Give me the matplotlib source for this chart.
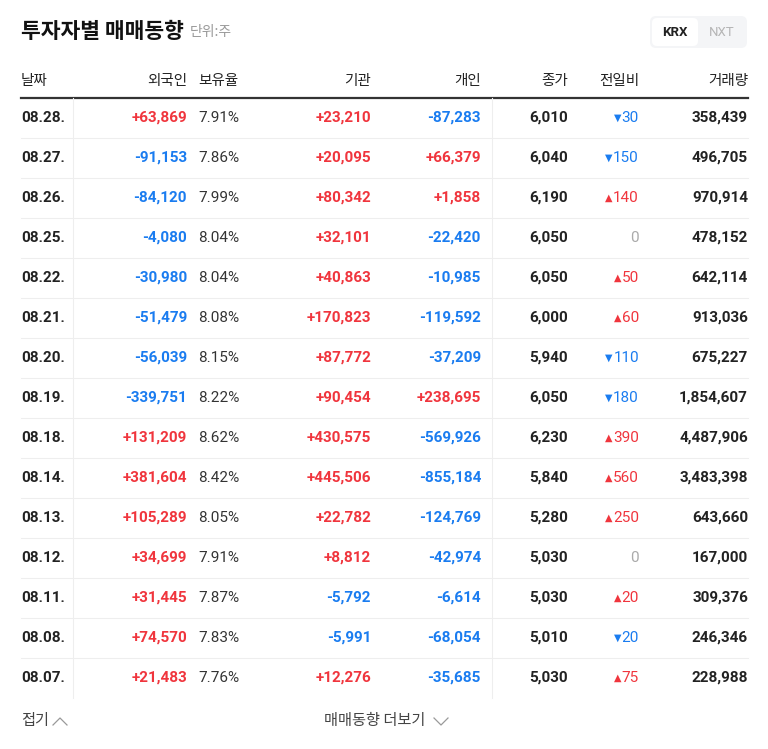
import matplotlib
matplotlib.use("Agg")
import matplotlib.pyplot as plt
from matplotlib import font_manager as fm
from matplotlib.patches import FancyBboxPatch

dates = ["08.28.","08.27.","08.26.","08.25.","08.22.","08.21.","08.20.","08.19.","08.18.","08.14.","08.13.","08.12.","08.11.","08.08.","08.07."]
foreign = [63869,-91153,-84120,-4080,-30980,-51479,-56039,-339751,131209,381604,105289,34699,31445,74570,21483]
holding = [7.91,7.86,7.99,8.04,8.04,8.08,8.15,8.22,8.62,8.42,8.05,7.91,7.87,7.83,7.76]
institution = [23210,20095,80342,32101,40863,170823,87772,90454,430575,445506,22782,8812,-5792,-5991,12276]
individual = [-87283,66379,1858,-22420,-10985,-119592,-37209,238695,-569926,-855184,-124769,-42974,-6614,-68054,-35685]
close = [6010,6040,6190,6050,6050,6000,5940,6050,6230,5840,5280,5030,5030,5010,5030]
change = [-30,-150,140,0,50,60,-110,-180,390,560,250,0,20,-20,75]
volume = [358439,496705,970914,478152,642114,913036,675227,1854607,4487906,3483398,643660,167000,309376,246346,228988]
headers = ["날짜","외국인","보유율","기관","개인","종가","전일비","거래량"]

RED = "#f0353d"; BLUE = "#1a7cf0"; DARK = "#222222"; GRAY = "#999999"
NUM = "Roboto"

cjk = sorted(f for f in fm.findSystemFonts() if "cjk" in f.lower())
def pick(keys, exclude=()):
    for k in keys:
        for f in cjk:
            n = f.lower().split("/")[-1]
            if k in n and not any(e in n for e in exclude):
                return f
    return None
kr_reg = pick(["regular"]) or pick([".tt", ".ot"], exclude=("bold", "black", "medium", "light", "thin"))
kr_bold = pick(["bold"], exclude=("semibold", "extrabold")) or kr_reg

def kp(size, bold=False):
    f = kr_bold if bold else kr_reg
    if f is None:
        return fm.FontProperties(family="Noto Sans CJK KR", size=size, weight="bold" if bold else "normal")
    return fm.FontProperties(fname=f, size=size)

fig = plt.figure(figsize=(7.68, 7.49), dpi=100)
ax = fig.add_axes([0, 0, 1, 1])
ax.set_xlim(0, 768); ax.set_ylim(749, 0); ax.axis("off")

ax.text(21, 31, "투자자별 매매동향", fontproperties=kp(15.5, True), color="#111", va="center")
ax.text(190, 32, "단위:주", fontproperties=kp(10), color=GRAY, va="center")
ax.add_patch(FancyBboxPatch((650, 16), 97, 32, boxstyle="round,pad=0,rounding_size=6", fc="#f4f5f7", ec="none"))
ax.add_patch(FancyBboxPatch((652, 18), 46, 28, boxstyle="round,pad=0,rounding_size=5", fc="white", ec="none"))
ax.text(675, 33, "KRX", fontsize=9.5, fontweight="bold", family=NUM, color=DARK, ha="center", va="center")
ax.text(722, 33, "NXT", fontsize=9.5, family=NUM, color="#b5b5b5", ha="center", va="center")

hx = [(21,"left"),(187,"right"),(198,"left"),(371,"right"),(481,"right"),(568,"right"),(639,"right"),(748,"right")]
for (x, ha), h in zip(hx, headers):
    ax.text(x, 81, h, fontproperties=kp(10.5), color=DARK, ha=ha, va="center")
ax.plot([21, 748], [97.5, 97.5], color="#333", lw=1.6)

def sgn(v):
    return f"{v:+,}"
def col(v):
    return RED if v > 0 else (BLUE if v < 0 else GRAY)

fs = 11
for i, d in enumerate(dates):
    y = 118 + 40 * i
    if i < len(dates) - 1:
        ax.plot([21, 748], [y + 20, y + 20], color="#eeeeee", lw=0.8)
    ax.text(21, y, d, fontsize=fs, fontweight="bold", family=NUM, color=DARK, va="center")
    ax.text(187, y, sgn(foreign[i]), fontsize=fs, fontweight="bold", family=NUM, color=col(foreign[i]), ha="right", va="center")
    ax.text(198, y, f"{holding[i]:.2f}%", fontsize=fs, family=NUM, color="#333", ha="left", va="center")
    ax.text(371, y, sgn(institution[i]), fontsize=fs, fontweight="bold", family=NUM, color=col(institution[i]), ha="right", va="center")
    ax.text(481, y, sgn(individual[i]), fontsize=fs, fontweight="bold", family=NUM, color=col(individual[i]), ha="right", va="center")
    ax.text(568, y, f"{close[i]:,}", fontsize=fs, fontweight="bold", family=NUM, color=DARK, ha="right", va="center")
    c = change[i]
    if c == 0:
        ax.text(639, y, "0", fontsize=fs, family=NUM, color="#aaaaaa", ha="right", va="center")
    else:
        ax.text(639, y, f"{abs(c)}", fontsize=fs, family=NUM, color=col(c), ha="right", va="center")
        n = len(str(abs(c)))
        ax.text(639 - 8.4 * n - 1, y, "▲" if c > 0 else "▼", fontsize=7, family="DejaVu Sans", color=col(c), ha="right", va="center")
    ax.text(748, y, f"{volume[i]:,}", fontsize=fs, fontweight="bold", family=NUM, color=DARK, ha="right", va="center")

for x in (72.5, 491.5):
    ax.plot([x, x], [98, 698], color="#eeeeee", lw=0.8)

ax.text(21, 721, "접기", fontproperties=kp(11), color="#444", va="center")
ax.plot([53, 60, 67], [725, 718, 725], color="#999", lw=0.9)
ax.text(324, 721, "매매동향 더보기", fontproperties=kp(11), color="#444", va="center")
ax.plot([434, 441, 448], [718, 725, 718], color="#999", lw=0.9)

fig.savefig("out.png", dpi=100)
